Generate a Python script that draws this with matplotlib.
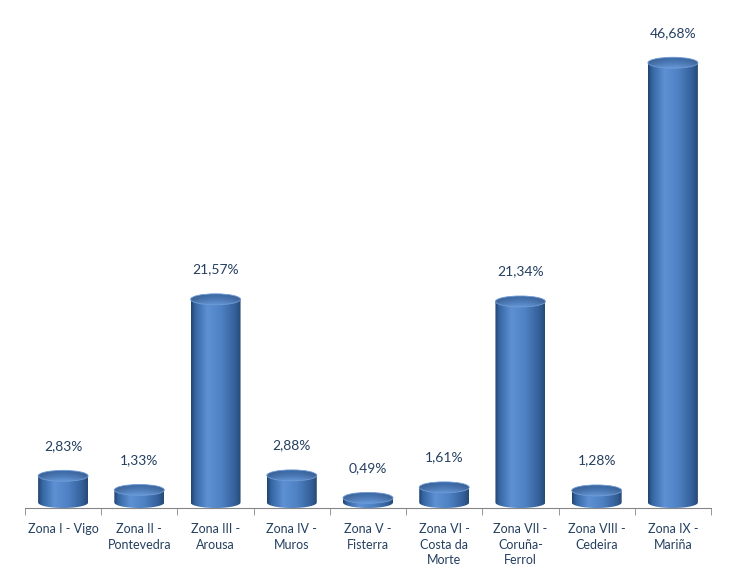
import numpy as np
import matplotlib
matplotlib.use("Agg")
import matplotlib.pyplot as plt
from matplotlib.colors import LinearSegmentedColormap, to_rgb
from matplotlib.patches import Polygon, Ellipse

categories = ["Zona I - Vigo", "Zona II -\nPontevedra", "Zona III -\nArousa",
              "Zona IV -\nMuros", "Zona V -\nFisterra", "Zona VI -\nCosta da\nMorte",
              "Zona VII -\nCoruña-\nFerrol", "Zona VIII -\nCedeira", "Zona IX -\nMariña"]
values = [2.83, 1.33, 21.57, 2.88, 0.49, 1.61, 21.34, 1.28, 46.68]
labels = ["2,83%", "1,33%", "21,57%", "2,88%", "0,49%", "1,61%", "21,34%", "1,28%", "46,68%"]

plt.rcParams['font.family'] = ['Lato', 'DejaVu Sans']
TXT = '#243f60'

fig = plt.figure(figsize=(7.34, 5.86), dpi=100)
ax = fig.add_axes([25/734, 78/586, 686/734, 503/586])

px_per_unit = 9.42
eh = 11 / px_per_unit          # ellipse height in data units
bw = 50 / (686/9)              # cylinder width in category units
ymin = -eh/2
ymax = ymin + 503/px_per_unit

body_cmap = LinearSegmentedColormap.from_list('body', [
    (0.0, '#22426d'), (0.08, '#3465a2'), (0.33, '#5e91d4'),
    (0.6, '#4f82c4'), (0.88, '#35609a'), (1.0, '#264a74')])

grad = np.linspace(0, 1, 256).reshape(1, -1)

# top face: 2D shading (darker back, lighter front, soft sides)
ny, nx = 64, 128
yy = np.linspace(0, 1, ny)[:, None]
xx = np.linspace(-1, 1, nx)[None, :]
back = np.array(to_rgb('#3d6aa5'))
front = np.array(to_rgb('#6898d8'))
mix = (yy ** 1.6)
top_img = back[None, None, :] * (1 - mix[..., None]) + front[None, None, :] * mix[..., None]
side = 1 - 0.18 * (xx ** 2)
top_img = np.clip(top_img * side[..., None], 0, 1)

for i, v in enumerate(values):
    x0, x1 = i - bw/2, i + bw/2
    th = np.linspace(np.pi, 2*np.pi, 60)
    arc = np.column_stack([i + bw/2*np.cos(th), eh/2*np.sin(th)])
    pts = np.vstack([[x0, v], arc, [x1, v]])
    poly = Polygon(pts, closed=True, facecolor='none', edgecolor='none')
    ax.add_patch(poly)
    im = ax.imshow(grad, cmap=body_cmap, extent=[x0, x1, -eh/2, v], aspect='auto',
                   interpolation='bilinear', zorder=2)
    im.set_clip_path(poly)
    ell = Ellipse((i, v), bw, eh, facecolor='none', edgecolor='#6e9bd6', lw=0.6, zorder=4)
    ax.add_patch(ell)
    im2 = ax.imshow(top_img, extent=[x0, x1, v - eh/2, v + eh/2], aspect='auto',
                    interpolation='bilinear', origin='upper', zorder=3)
    im2.set_clip_path(ell)
    ax.annotate(labels[i], (i, v), xytext=(0, 21.5), textcoords='offset points',
                ha='center', va='center', fontsize=10, color=TXT)

ax.set_xlim(-0.5, len(values) - 0.5)
ax.set_ylim(ymin, ymax)
for s in ['top', 'right', 'left']:
    ax.spines[s].set_visible(False)
ax.spines['bottom'].set_color('#868686')
ax.set_yticks([])
ax.set_xticks(range(len(values)))
ax.set_xticklabels(categories, fontsize=9, color=TXT, linespacing=1.35)
ax.tick_params(axis='x', which='major', length=0, pad=11)
ax.set_xticks(np.arange(-0.5, len(values), 1), minor=True)
ax.tick_params(axis='x', which='minor', length=5, color='#868686', direction='out')

fig.savefig('out.png', dpi=100)
